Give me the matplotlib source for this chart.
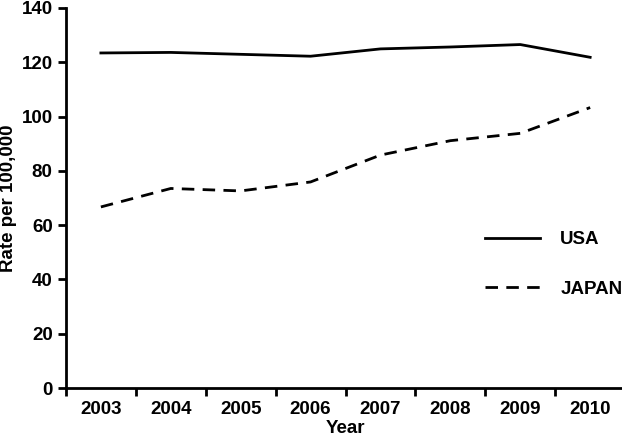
import numpy as np
import matplotlib.pyplot as plt

plt.rcParams['font.family'] = ['Liberation Sans', 'DejaVu Sans']
plt.rcParams['font.weight'] = 'bold'

years = ["2003", "2004", "2005", "2006", "2007", "2008", "2009", "2010"]
usa = [123.4, 123.6, 122.9, 122.2, 124.9, 125.6, 126.5, 121.8]
japan = [66.7, 73.5, 72.6, 75.9, 85.8, 91.1, 93.8, 103.3]

fig = plt.figure(figsize=(6.22, 4.38), dpi=100)
ax = fig.add_axes([0.106, 0.114, 0.899, 0.868])

x = np.arange(len(years))
ax.plot(x, usa, color="black", lw=2, label="USA")
ax.plot(x, japan, color="black", lw=2, dashes=(4.5, 3), label="JAPAN")

ax.set_xlim(-0.5, len(years) - 0.5)
ax.set_ylim(0, 140)
ax.set_yticks(np.arange(0, 141, 20))
ax.set_xticks(x)
ax.set_xticklabels(years)
ax.set_xticks(np.arange(-0.5, len(years), 1), minor=True)
ax.tick_params(axis="x", which="major", length=0, pad=9, labelsize=13.5)
ax.tick_params(axis="x", which="minor", length=6, width=2, direction="out")
ax.tick_params(axis="y", length=6, width=2, direction="out", labelsize=13.5)

for s in ["top", "right"]:
    ax.spines[s].set_visible(False)
for s in ["left", "bottom"]:
    ax.spines[s].set_linewidth(2)
ax.spines["bottom"].set_clip_on(False)

ax.set_xlabel("Year", fontsize=13.5, fontweight="bold", labelpad=2)
ax.set_ylabel("Rate per 100,000", fontsize=13.5, fontweight="bold", labelpad=3)

ax.legend(loc="upper left", bbox_to_anchor=(0.733, 0.437), frameon=False,
          borderpad=0, handlelength=2.9, labelspacing=1.72, handletextpad=1.1,
          prop={"size": 13.5, "weight": "bold"})

fig.savefig("out.png", dpi=100)
